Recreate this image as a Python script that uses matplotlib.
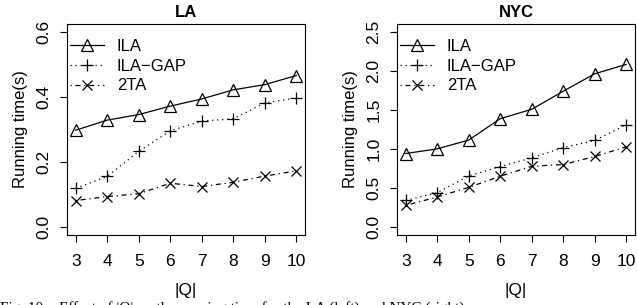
import matplotlib
matplotlib.use('Agg')
import matplotlib.pyplot as plt

plt.rcParams['font.family'] = ['Liberation Sans', 'DejaVu Sans']

# query sizes
q_sizes = [3, 4, 5, 6, 7, 8, 9, 10]

# LA running times (s)
la_ila = [0.298, 0.329, 0.346, 0.372, 0.394, 0.422, 0.438, 0.466]
la_ila_gap = [0.119, 0.156, 0.233, 0.296, 0.326, 0.333, 0.382, 0.397]
la_2ta = [0.082, 0.094, 0.103, 0.135, 0.125, 0.138, 0.157, 0.173]

# NYC running times (s)
nyc_ila = [0.943, 1.003, 1.115, 1.389, 1.509, 1.741, 1.964, 2.084]
nyc_ila_gap = [0.343, 0.442, 0.656, 0.776, 0.888, 1.020, 1.110, 1.312]
nyc_2ta = [0.279, 0.386, 0.510, 0.652, 0.780, 0.802, 0.905, 1.029]

la_yticks = [0.0, 0.2, 0.4, 0.6]
nyc_yticks = [0.0, 0.5, 1.0, 1.5, 2.0, 2.5]


def draw_panel(ax, title, ila, gap, two, yticks):
    ax.plot(q_sizes, ila, color='black', lw=0.9, ls='-', marker='^',
            mfc='none', mec='black', ms=8, mew=0.9, label='ILA')
    ax.plot(q_sizes, gap, color='black', lw=0.9, ls=(0, (1, 3)), marker='+',
            ms=9, mew=0.9, label='ILA\u2212GAP')
    ax.plot(q_sizes, two, color='black', lw=0.9, ls=(0, (1, 3, 4, 3)), marker='x',
            ms=7, mew=0.9, label='2TA')
    top = yticks[-1]
    pad = 0.04 * top
    ax.set_ylim(-pad, top + pad)
    ax.set_xlim(3 - 0.28, 10 + 0.28)
    ax.set_xticks(q_sizes)
    ax.set_yticks(yticks)
    ax.set_yticklabels(['%.1f' % v for v in yticks], rotation=90, va='center')
    ax.tick_params(axis='x', direction='out', length=5, width=0.8, labelsize=12.5, pad=9)
    ax.tick_params(axis='y', direction='out', length=5, width=0.8, labelsize=12.5, pad=6)
    for s in ax.spines.values():
        s.set_linewidth(0.8)
    ax.set_title(title, fontsize=12, fontweight='bold', pad=5)
    ax.set_xlabel('|Q|', fontsize=12.5, labelpad=10)
    ax.set_ylabel('Running time(s)', fontsize=12, labelpad=6)
    ax.legend(loc='upper left', bbox_to_anchor=(0.0, 0.945), frameon=False,
              fontsize=12, handlelength=2.0, handletextpad=0.8,
              labelspacing=0.28, borderaxespad=0.0, borderpad=0.2)


fig = plt.figure(figsize=(6.37, 3.05), dpi=100)
ax1 = fig.add_axes([0.105, 0.2295, 0.374, 0.6915])
ax2 = fig.add_axes([0.623, 0.2295, 0.374, 0.6915])

draw_panel(ax1, 'LA', la_ila, la_ila_gap, la_2ta, la_yticks)
draw_panel(ax2, 'NYC', nyc_ila, nyc_ila_gap, nyc_2ta, nyc_yticks)

# caption, cut off at the bottom edge as in the source page
fig.text(0.0, -7.0 / 305, 'Fig. 10:   Effect of |Q| on the running time for the LA (left) and NYC (right)',
         fontsize=11, va='baseline', ha='left', family='Liberation Serif')

fig.savefig('out.png', dpi=100)
